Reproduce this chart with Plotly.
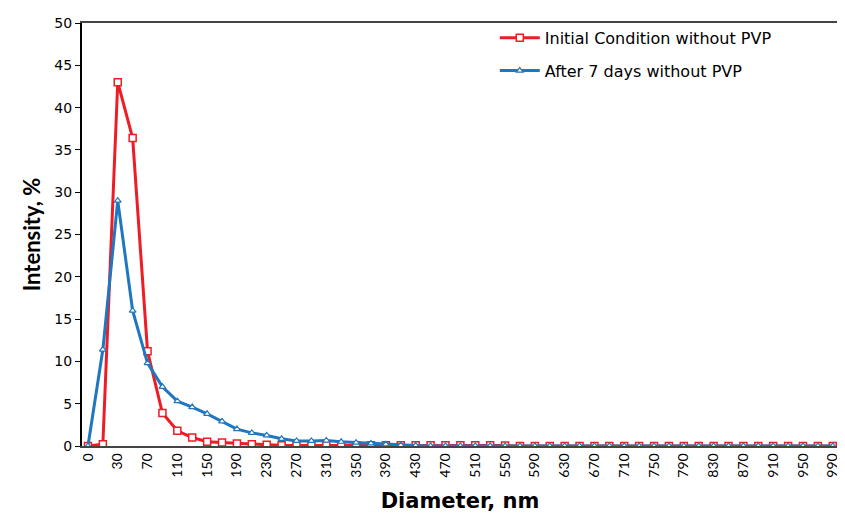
import plotly.graph_objects as go

diameters = ["0"] + [str(v) for v in range(10, 1000, 20)]
tick_labels = [d for i, d in enumerate(diameters) if i % 2 == 0]

initial = [0, 0.2, 43.0, 36.4, 11.2, 3.9, 1.8, 1.0, 0.5, 0.4, 0.3, 0.2, 0.15, 0.1, 0.1,
           0.1, 0.1, 0.1, 0.1, 0.1, 0.1, 0.1, 0.1, 0.1, 0.1, 0.1, 0.1, 0.1, 0.05, 0,
           0, 0, 0, 0, 0, 0, 0, 0, 0, 0, 0, 0, 0, 0, 0, 0, 0, 0, 0, 0, 0]
after7 = [0, 11.4, 29.0, 16.0, 9.8, 7.0, 5.3, 4.6, 3.8, 2.9, 2.0, 1.55, 1.25, 0.85, 0.6,
          0.6, 0.65, 0.5, 0.4, 0.3, 0.2, 0.1, 0.05, 0, 0, 0, 0, 0, 0, 0,
          0, 0, 0, 0, 0, 0, 0, 0, 0, 0, 0, 0, 0, 0, 0, 0, 0, 0, 0, 0, 0]

fig = go.Figure()
fig.add_trace(go.Scatter(
    x=diameters, y=initial, mode="lines+markers", name="Initial Condition without PVP",
    legendgroup="a",
    line=dict(color="#ee1c25", width=3),
    marker=dict(symbol="square", size=7, color="white", line=dict(color="#ee1c25", width=1.5)),
))
fig.add_trace(go.Scatter(
    x=diameters, y=after7, mode="lines+markers", name="After 7 days without PVP",
    legendgroup="b",
    line=dict(color="#1f77c0", width=3),
    marker=dict(symbol="triangle-up", size=6, color="white", line=dict(color="#1f77c0", width=1.2)),
))

fig.update_layout(
    width=845, height=515,
    margin=dict(l=74, r=15, t=7, b=77),
    paper_bgcolor="white", plot_bgcolor="white",
    showlegend=True,
    legend=dict(x=0.546, y=1.005, xanchor="left", yanchor="top",
                font=dict(family="DejaVu Sans", size=16, color="black"),
                bgcolor="rgba(0,0,0,0)", tracegroupgap=9, itemwidth=40),
)
fig.update_xaxes(
    type="category", range=[-0.4, 50.35],
    tickmode="array", tickvals=tick_labels, ticktext=tick_labels,
    tickangle=-90, tickfont=dict(family="Lato", size=14, color="black"),
    showline=True, linecolor="#444", linewidth=1.5, mirror=True,
    showgrid=False, zeroline=False, ticks="",
    title=dict(text="<b>Diameter, nm</b>", font=dict(family="DejaVu Sans", size=21, color="black"), standoff=17),
)
fig.update_yaxes(
    range=[0, 50], dtick=5,
    tickfont=dict(family="DejaVu Sans", size=14, color="black"),
    showline=True, linecolor="black", linewidth=2, mirror=True,
    showgrid=False, zeroline=False, ticks="outside", ticklen=5, tickcolor="black",
    title=dict(text="<b>Intensity, %</b>", font=dict(family="Lato", size=22, color="black"), standoff=8),
)

fig.write_html("out.html")
